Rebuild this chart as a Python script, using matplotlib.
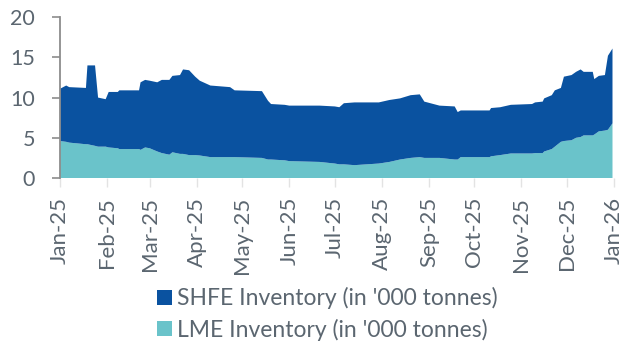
import matplotlib
matplotlib.use("Agg")
import matplotlib.pyplot as plt
import matplotlib.dates as mdates
from matplotlib.patches import Patch
import pandas as pd

# one row per visible step
dates = [
    "2025-01-01", "2025-01-05", "2025-01-07", "2025-01-18", "2025-01-19",
    "2025-01-24", "2025-01-26", "2025-01-31", "2025-02-02", "2025-02-08",
    "2025-02-09", "2025-02-22", "2025-02-23", "2025-02-26", "2025-03-01",
    "2025-03-06", "2025-03-09", "2025-03-14", "2025-03-16", "2025-03-21",
    "2025-03-23", "2025-03-27", "2025-03-31", "2025-04-03", "2025-04-10",
    "2025-04-23", "2025-04-26", "2025-05-14", "2025-05-18", "2025-05-20",
    "2025-05-29", "2025-06-01", "2025-06-21", "2025-07-01", "2025-07-04",
    "2025-07-07", "2025-07-14", "2025-07-30", "2025-08-06", "2025-08-13",
    "2025-08-20", "2025-08-26", "2025-08-29", "2025-09-08", "2025-09-18",
    "2025-09-20", "2025-09-22", "2025-10-11", "2025-10-12", "2025-10-18",
    "2025-10-25", "2025-11-08", "2025-11-10", "2025-11-15", "2025-11-16",
    "2025-11-21", "2025-11-23", "2025-11-27", "2025-11-29", "2025-12-04",
    "2025-12-07", "2025-12-10", "2025-12-12", "2025-12-18", "2025-12-19",
    "2025-12-22", "2025-12-26", "2025-12-28", "2025-12-31",
]
lme = [
    4.6, 4.5, 4.4, 4.2, 4.2, 4.0, 3.9, 3.9, 3.8, 3.7,
    3.6, 3.6, 3.5, 3.8, 3.7, 3.3, 3.1, 2.9, 3.2, 3.0,
    3.0, 2.85, 2.85, 2.8, 2.6, 2.6, 2.6, 2.5, 2.3, 2.3,
    2.2, 2.1, 2.0, 1.8, 1.7, 1.7, 1.6, 1.8, 2.0, 2.3,
    2.5, 2.6, 2.5, 2.5, 2.3, 2.3, 2.6, 2.6, 2.7, 2.85,
    3.05, 3.05, 3.1, 3.1, 3.3, 3.6, 3.9, 4.5, 4.6, 4.7,
    5.0, 5.1, 5.3, 5.3, 5.4, 5.8, 5.9, 6.0, 6.8,
]
shfe = [
    6.5, 7.0, 6.9, 7.0, 9.8, 10.0, 6.1, 5.9, 6.9, 7.0,
    7.3, 7.3, 8.4, 8.4, 8.4, 8.6, 9.1, 9.3, 9.5, 9.8,
    10.5, 10.55, 9.75, 9.3, 8.9, 8.7, 8.3, 8.3, 7.3, 6.9,
    6.9, 6.9, 7.0, 7.1, 7.1, 7.6, 7.8, 7.6, 7.7, 7.6,
    7.8, 7.8, 7.0, 6.5, 6.6, 5.9, 5.8, 5.8, 6.0, 5.95,
    6.05, 6.15, 6.3, 6.4, 6.6, 6.7, 7.0, 6.7, 8.0, 8.1,
    8.2, 8.4, 7.9, 7.9, 6.9, 6.9, 6.9, 9.2, 9.3,
]
shfe_label = "SHFE Inventory (in '000 tonnes)"
lme_label = "LME Inventory (in '000 tonnes)"

shfe_color = "#0a52a0"
lme_color = "#6ac3ca"
text_color = "#5b6670"

plt.rcParams["font.family"] = ["Lato", "DejaVu Sans"]

x = pd.to_datetime(dates)

fig = plt.figure(figsize=(6.33, 3.43), dpi=100)
ax = fig.add_axes([0.095, 0.481, 0.875, 0.469])

ax.stackplot(x, lme, shfe, colors=[lme_color, shfe_color], linewidth=0)

ax.set_xlim(pd.Timestamp("2025-01-01"), pd.Timestamp("2026-01-01"))
ax.set_ylim(0, 20)
ax.set_yticks([0, 5, 10, 15, 20])

ax.xaxis.set_major_locator(mdates.MonthLocator())
ax.xaxis.set_major_formatter(mdates.DateFormatter("%b-%y"))
plt.setp(ax.get_xticklabels(), rotation=90)

for side in ["top", "right", "bottom"]:
    ax.spines[side].set_visible(False)
ax.spines["left"].set_color("#8c8c8c")
ax.spines["left"].set_linewidth(1.3)

ax.tick_params(axis="y", colors="#8c8c8c", labelcolor=text_color,
               labelsize=15.5, length=6, width=1.2, pad=12)
ax.tick_params(axis="x", colors="#e3e3e3", labelcolor=text_color,
               labelsize=16, length=6.5, width=1, pad=7)

legend_elements = [
    Patch(facecolor=shfe_color, label=shfe_label),
    Patch(facecolor=lme_color, label=lme_label),
]
fig.legend(
    handles=legend_elements,
    loc="center",
    bbox_to_anchor=(0.517, 0.085),
    frameon=False,
    fontsize=16.5,
    labelcolor=text_color,
    handlelength=0.65,
    handleheight=0.65,
    handletextpad=0.2,
    labelspacing=0.4,
)

fig.savefig("out.png", dpi=100)
